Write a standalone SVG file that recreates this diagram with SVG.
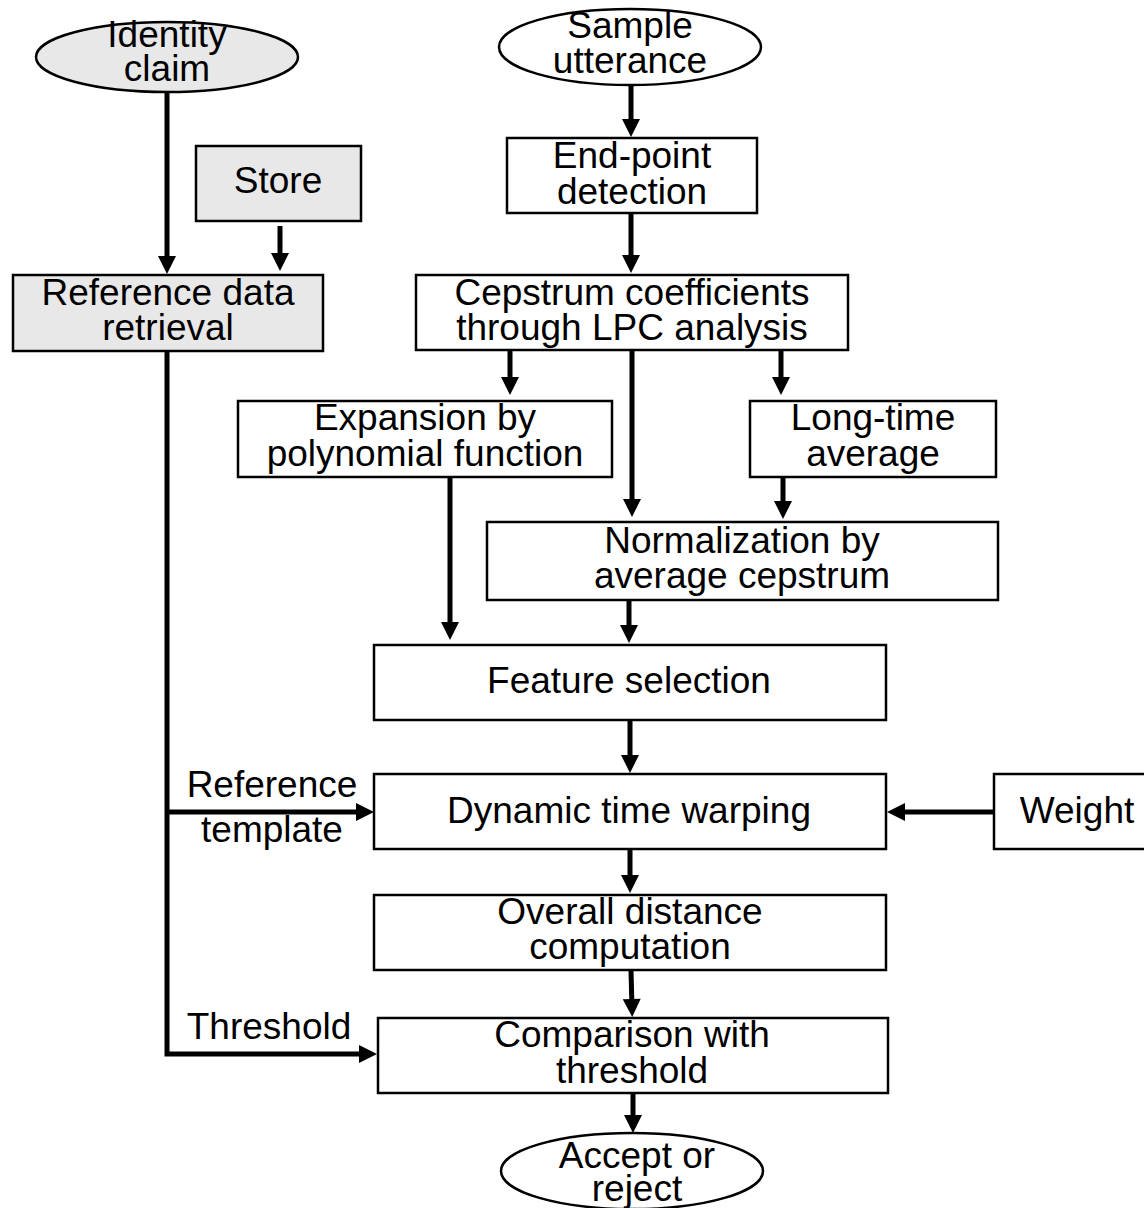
<svg xmlns="http://www.w3.org/2000/svg" width="1144" height="1208" viewBox="0 0 1144 1208">
<style>
.box{fill:#ffffff;stroke:#000;stroke-width:2.5}
.gray{fill:#e8e8e8;stroke:#000;stroke-width:2.5}
text{font-family:"Liberation Sans",Arial,sans-serif;font-size:37px;fill:#000;text-anchor:middle}
.c{fill:none;stroke:#000;stroke-width:5}
</style>
<defs>
<marker id="ah" markerUnits="userSpaceOnUse" markerWidth="18" markerHeight="18" refX="10" refY="9" orient="auto" overflow="visible">
<path d="M0,0 L18,9 L0,18 z" fill="#000"/>
</marker>
</defs>
<rect width="1144" height="1208" fill="#ffffff"/>
<g id="connectors">
<line class="c" x1="167" y1="92" x2="167" y2="266" marker-end="url(#ah)"/>
<line class="c" x1="280" y1="226" x2="280" y2="263" marker-end="url(#ah)"/>
<line class="c" x1="631" y1="85" x2="631" y2="129" marker-end="url(#ah)"/>
<line class="c" x1="631" y1="213" x2="631" y2="265" marker-end="url(#ah)"/>
<line class="c" x1="510" y1="350" x2="510" y2="387" marker-end="url(#ah)"/>
<line class="c" x1="632" y1="350" x2="632" y2="509" marker-end="url(#ah)"/>
<line class="c" x1="781" y1="350" x2="781" y2="387" marker-end="url(#ah)"/>
<line class="c" x1="783" y1="477" x2="783" y2="511" marker-end="url(#ah)"/>
<line class="c" x1="450" y1="477" x2="450" y2="632" marker-end="url(#ah)"/>
<line class="c" x1="629" y1="600" x2="629" y2="635" marker-end="url(#ah)"/>
<line class="c" x1="630" y1="720" x2="630" y2="765" marker-end="url(#ah)"/>
<line class="c" x1="630" y1="849" x2="630" y2="885" marker-end="url(#ah)"/>
<line class="c" x1="631" y1="970" x2="632" y2="1009" marker-end="url(#ah)"/>
<line class="c" x1="633" y1="1093" x2="633" y2="1125" marker-end="url(#ah)"/>
<line class="c" x1="994" y1="812" x2="895" y2="812" marker-end="url(#ah)"/>
<polyline class="c" points="167,351 167,1054 369,1054" marker-end="url(#ah)"/>
<line class="c" x1="167" y1="812" x2="366" y2="812" marker-end="url(#ah)"/>
<text x="272" y="797">Reference</text>
<text x="272" y="842">template</text>
<text x="269" y="1039">Threshold</text>
</g>
<g id="identity-claim">
<ellipse class="gray" cx="167" cy="57" rx="131" ry="35"/>
<text x="167" y="47">Identity</text>
<text x="167" y="81">claim</text>
</g>
<g id="sample-utterance">
<ellipse class="box" cx="630" cy="47" rx="131" ry="38"/>
<text x="630" y="38">Sample</text>
<text x="630" y="73">utterance</text>
</g>
<g id="store">
<rect class="gray" x="196" y="146" width="165" height="75"/>
<text x="278" y="193">Store</text>
</g>
<g id="reference-data-retrieval">
<rect class="gray" x="13" y="275" width="310" height="76"/>
<text x="168" y="305">Reference data</text>
<text x="168" y="340">retrieval</text>
</g>
<g id="end-point-detection">
<rect class="box" x="507" y="138" width="250" height="75"/>
<text x="632" y="168">End-point</text>
<text x="632" y="204">detection</text>
</g>
<g id="cepstrum">
<rect class="box" x="416" y="275" width="432" height="75"/>
<text x="632" y="305">Cepstrum coefficients</text>
<text x="632" y="340">through LPC analysis</text>
</g>
<g id="expansion">
<rect class="box" x="238" y="401" width="374" height="76"/>
<text x="425" y="430">Expansion by</text>
<text x="425" y="466">polynomial function</text>
</g>
<g id="long-time-average">
<rect class="box" x="750" y="401" width="246" height="76"/>
<text x="873" y="430">Long-time</text>
<text x="873" y="466">average</text>
</g>
<g id="normalization">
<rect class="box" x="487" y="522" width="511" height="78"/>
<text x="742" y="553">Normalization by</text>
<text x="742" y="588">average cepstrum</text>
</g>
<g id="feature-selection">
<rect class="box" x="374" y="645" width="512" height="75"/>
<text x="629" y="693">Feature selection</text>
</g>
<g id="dynamic-time-warping">
<rect class="box" x="374" y="774" width="512" height="75"/>
<text x="629" y="823">Dynamic time warping</text>
</g>
<g id="weight">
<rect class="box" x="994" y="774" width="166" height="75"/>
<text x="1077" y="823">Weight</text>
</g>
<g id="overall-distance">
<rect class="box" x="374" y="895" width="512" height="75"/>
<text x="630" y="924">Overall distance</text>
<text x="630" y="959">computation</text>
</g>
<g id="comparison">
<rect class="box" x="378" y="1018" width="510" height="75"/>
<text x="632" y="1047">Comparison with</text>
<text x="632" y="1083">threshold</text>
</g>
<g id="accept-or-reject">
<ellipse class="box" cx="632" cy="1171" rx="131" ry="38"/>
<text x="637" y="1168">Accept or</text>
<text x="637" y="1201">reject</text>
</g>
</svg>
